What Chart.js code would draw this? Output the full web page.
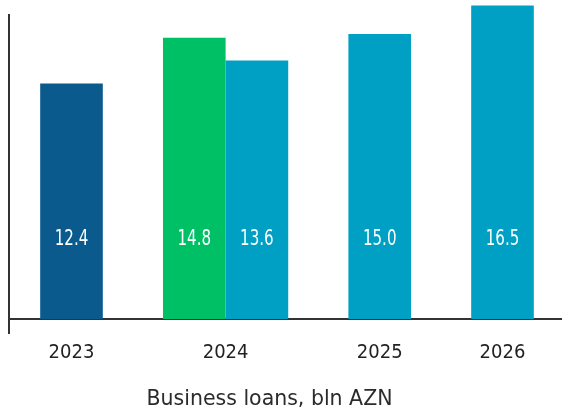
<!DOCTYPE html>
<html>
<head>
<meta charset="utf-8">
<script src="https://cdn.jsdelivr.net/npm/chart.js@4"></script>
<style>
  html, body { margin: 0; padding: 0; background: #fff; }
  #wrap { width: 562px; height: 415px; }
</style>
</head>
<body>
<div id="wrap"><canvas id="loans"></canvas></div>
<script>
// Business loans by year, bln AZN
const years = ['2023', '2024', '2025', '2026'];
const earlierValues = [12.4, 14.8, null, null];
const earlierColors = ['#0b5a8e', '#00c065'];
const latestValues = [null, 13.6, 15.0, 16.5];
const latestColor = '#009fc4';

const axisColor = '#333333';
const categoryPct = 1.02;
const yMin = -0.74, yMax = 16;
const labelFamily = '"DejaVu Sans", sans-serif';

// each year label sits under its own bar when the year has only one bar
const tickValues = years.map((y, i) => {
    const a = earlierValues[i] != null, b = latestValues[i] != null;
    const shift = a && !b ? -categoryPct / 4 : (!a && b ? categoryPct / 4 : 0);
    return +y + shift;
});

// white value text inside each bar, a fixed distance above the base
const valueLabels = {
    id: 'valueLabels',
    afterDatasetsDraw(chart) {
        const ctx = chart.ctx;
        chart.data.datasets.forEach((ds, di) => {
            chart.getDatasetMeta(di).data.forEach((bar, i) => {
                if (ds.data[i] == null) return;
                ctx.save();
                ctx.fillStyle = '#ffffff';
                ctx.font = 'condensed 21px ' + labelFamily;
                ctx.textAlign = 'center';
                ctx.textBaseline = 'middle';
                ctx.translate(bar.x, bar.base - 79);
                ctx.scale(0.8, 1);
                ctx.fillText(ds.data[i].toFixed(1), 0, 0);
                ctx.restore();
            });
        });
    }
};

new Chart(document.getElementById('loans').getContext('2d'), {
    type: 'bar',
    data: {
        labels: years,
        datasets: [{
            label: 'Earlier',
            data: earlierValues,
            backgroundColor: earlierColors,
            categoryPercentage: categoryPct,
            barPercentage: 1,
            clip: false
        }, {
            label: 'Forecast',
            data: latestValues,
            backgroundColor: latestColor,
            categoryPercentage: categoryPct,
            barPercentage: 1,
            clip: false
        }]
    },
    options: {
        responsive: true,
        maintainAspectRatio: false,
        animation: false,
        layout: { padding: { left: 9, right: 0, top: 15, bottom: 82 } },
        plugins: {
            legend: { display: false },
            tooltip: { enabled: false }
        },
        scales: {
            x: {
                type: 'linear',
                position: { y: 0 },
                offset: false,
                min: 2022.236,
                max: 2026.479,
                grid: { display: false, drawTicks: false },
                border: { display: false },
                afterBuildTicks: (scale) => {
                    scale.ticks = tickValues.map(v => ({ value: v }));
                },
                ticks: {
                    autoSkip: false,
                    maxRotation: 0,
                    padding: 22,
                    color: '#222222',
                    font: { family: labelFamily, size: 20, weight: 'condensed' },
                    callback: (value, index) => years[index]
                },
                title: {
                    display: true,
                    text: 'Business loans, bln AZN',
                    color: '#2b2b2b',
                    font: { family: labelFamily, size: 20.5 },
                    padding: { top: 0, bottom: 0 }
                }
            },
            y: {
                min: yMin,
                max: yMax,
                grid: { display: false, drawTicks: false },
                border: { display: true, color: axisColor, width: 2 },
                ticks: { display: false }
            },
            // zero line, carried past the plot to the right edge
            y2: {
                position: 'right',
                min: yMin,
                max: yMax,
                afterBuildTicks: (scale) => {
                    scale.ticks = [{ value: 0 }];
                },
                grid: { color: axisColor, lineWidth: 2, drawTicks: true, tickLength: 32 },
                border: { display: false },
                ticks: { display: false }
            }
        }
    },
    plugins: [valueLabels]
});
</script>
</body>
</html>
